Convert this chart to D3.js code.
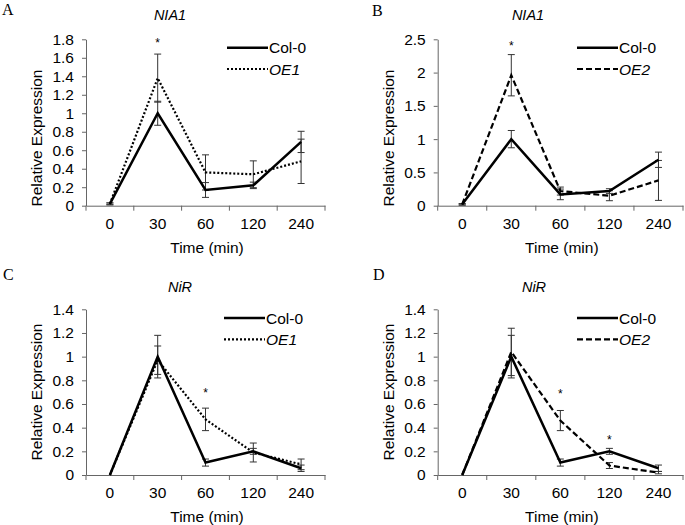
<!DOCTYPE html>
<html>
<head>
<meta charset="utf-8">
<script src="https://cdn.jsdelivr.net/npm/d3@7"></script>
<style>
  body { margin: 0; background: #fff; }
  svg text { font-family: "Liberation Sans", Arial, sans-serif; }
</style>
</head>
<body>
<div class="canva"></div>
<script>
// data
const times = ['0', '30', '60', '120', '240'];

const nia1Col = [0.02, 1.0, 0.17, 0.22, 0.69];
const nia1ColErr = [0.01, 0.13, 0.08, 0.035, 0.115];
const nia1OE1 = [0.02, 1.38, 0.36, 0.34, 0.48];
const nia1OE1Err = [0.01, 0.26, 0.19, 0.145, 0.24];
const nia1OE2 = [0.02, 1.96, 0.22, 0.15, 0.38];
const nia1OE2Err = [0.01, 0.31, 0.06, 0.075, 0.30];

const nirCol = [0, 1.0, 0.105, 0.2, 0.057];
const nirColErr = [0, 0.18, 0.03, 0.025, 0.027];
const nirOE1 = [0, 0.97, 0.47, 0.19, 0.09];
const nirOE1Err = [0, 0.12, 0.095, 0.08, 0.045];
const nirOE2 = [0, 1.04, 0.46, 0.08, 0.02];
const nirOE2Err = [0, 0.2, 0.085, 0.025, 0.01];

const ticks14 = [0, 0.2, 0.4, 0.6, 0.8, 1, 1.2, 1.4];
const ticks18 = [0, 0.2, 0.4, 0.6, 0.8, 1, 1.2, 1.4, 1.6, 1.8];
const ticks25 = [0, 0.5, 1, 1.5, 2, 2.5];

// significance marks: [category, level]
const starsA = [['30', 1.79]];
const starsB = [['30', 2.45]];
const starsC = [['60', 0.72]];
const starsD = [['60', 0.71], ['120', 0.32]];

const svg = d3.select('.canva').append('svg')
  .attr('width', 685)
  .attr('height', 525);

const panels = [
  {letter: 'A', gene: 'NIA1', oe: 'OE1', dash: '2,2', col: nia1Col, colErr: nia1ColErr, oeV: nia1OE1, oeErr: nia1OE1Err,
   yTicks: ticks18, stars: starsA, left: 86, right: 325, top: 39.3, bottom: 205.7, labelY: 138,
   letterX: 2, letterY: 15, geneX: 170, geneY: 20, legX: 227, legY: 47.7},
  {letter: 'B', gene: 'NIA1', oe: 'OE2', dash: '6,3', col: nia1Col, colErr: nia1ColErr, oeV: nia1OE2, oeErr: nia1OE2Err,
   yTicks: ticks25, stars: starsB, left: 437.7, right: 683, top: 39.3, bottom: 205.7, labelY: 138,
   letterX: 372, letterY: 16, geneX: 528, geneY: 20, legX: 577, legY: 47.7},
  {letter: 'C', gene: 'NiR', oe: 'OE1', dash: '2,2', col: nirCol, colErr: nirColErr, oeV: nirOE1, oeErr: nirOE1Err,
   yTicks: ticks14, stars: starsC, left: 86, right: 325, top: 309.3, bottom: 475, labelY: 392,
   letterX: 3, letterY: 280, geneX: 180, geneY: 292, legX: 224, legY: 318},
  {letter: 'D', gene: 'NiR', oe: 'OE2', dash: '6,3', col: nirCol, colErr: nirColErr, oeV: nirOE2, oeErr: nirOE2Err,
   yTicks: ticks14, stars: starsD, left: 437.7, right: 683, top: 309.3, bottom: 475, labelY: 392,
   letterX: 373, letterY: 280, geneX: 534, geneY: 292, legX: 577, legY: 318}
];

panels.forEach(p => {
  const g = svg.append('g');

  const x = d3.scaleBand().domain(times).range([p.left, p.right]);
  const y = d3.scaleLinear().domain([0, d3.max(p.yTicks)]).range([p.bottom, p.top]);
  const cx = d => x(d) + x.bandwidth() / 2;

  // y axis
  const ya = g.append('g')
    .attr('transform', 'translate(' + p.left + ',0)')
    .call(d3.axisLeft(y).tickValues(p.yTicks).tickSize(4).tickSizeOuter(0).tickPadding(8).tickFormat(d3.format('')));
  ya.selectAll('text').style('font-size', '15.5px').attr('fill', '#000');
  ya.selectAll('path, line').attr('stroke', '#666');

  // x axis: labels at band centres, ticks on band edges
  const xa = g.append('g')
    .attr('transform', 'translate(0,' + p.bottom + ')')
    .call(d3.axisBottom(x).tickSize(0).tickSizeOuter(0).tickPadding(12));
  xa.select('.domain').attr('stroke', '#666');
  xa.selectAll('text').style('font-size', '15.5px').attr('fill', '#000');
  const edges = times.map(t => x(t)).concat([p.right]);
  g.selectAll('.xtick').data(edges).enter().append('line')
    .attr('x1', d => d).attr('x2', d => d)
    .attr('y1', p.bottom).attr('y2', p.bottom + 5)
    .attr('stroke', '#666');

  g.append('text')
    .attr('x', (p.left + p.right) / 2 + 1.5)
    .attr('y', p.bottom + 47)
    .attr('text-anchor', 'middle')
    .style('font-size', '15.5px')
    .text('Time (min)');

  g.append('text')
    .attr('transform', 'translate(' + (p.left - 44) + ',' + p.labelY + ') rotate(-90)')
    .attr('text-anchor', 'middle')
    .style('font-size', '15.5px')
    .text('Relative Expression');

  // titles
  g.append('text')
    .attr('x', p.letterX).attr('y', p.letterY)
    .style('font-family', '"Liberation Serif", "Times New Roman", serif')
    .style('font-size', '16px')
    .text(p.letter);
  g.append('text')
    .attr('x', p.geneX).attr('y', p.geneY)
    .attr('text-anchor', 'middle')
    .style('font-size', '14.5px')
    .style('font-style', 'italic')
    .text(p.gene);

  // error bars
  const series = [
    {v: p.col, e: p.colErr},
    {v: p.oeV, e: p.oeErr}
  ];
  series.forEach(s => {
    const bars = times.map((t, i) => ({t: t, v: s.v[i], e: s.e[i]})).filter(d => d.e > 0);
    const eb = g.append('g').attr('stroke', '#333').attr('stroke-width', 1);
    eb.selectAll('.stem').data(bars).enter().append('line')
      .attr('x1', d => cx(d.t)).attr('x2', d => cx(d.t))
      .attr('y1', d => y(d.v - d.e)).attr('y2', d => y(d.v + d.e));
    [1, -1].forEach(sg => {
      eb.selectAll('.cap' + sg).data(bars).enter().append('line')
        .attr('x1', d => cx(d.t) - 3.5).attr('x2', d => cx(d.t) + 3.5)
        .attr('y1', d => y(d.v + sg * d.e)).attr('y2', d => y(d.v + sg * d.e));
    });
  });

  // lines
  const line = d3.line().x((d, i) => cx(times[i])).y(d => y(d));
  g.append('path').datum(p.oeV)
    .attr('d', line).attr('fill', 'none')
    .attr('stroke', '#000').attr('stroke-width', 2.2)
    .attr('stroke-dasharray', p.dash);
  g.append('path').datum(p.col)
    .attr('d', line).attr('fill', 'none')
    .attr('stroke', '#000').attr('stroke-width', 2.5);

  // stars
  g.selectAll('.star').data(p.stars).enter().append('text')
    .attr('x', d => cx(d[0]))
    .attr('y', d => y(d[1]) + 7)
    .attr('text-anchor', 'middle')
    .style('font-size', '12px')
    .text('*');

  // legend
  const leg = g.append('g');
  [{name: 'Col-0', dash: null, it: false, dy: 0},
   {name: p.oe, dash: p.dash, it: true, dy: 21.3}].forEach(l => {
    leg.append('line')
      .attr('x1', p.legX).attr('x2', p.legX + 41)
      .attr('y1', p.legY + l.dy).attr('y2', p.legY + l.dy)
      .attr('stroke', '#000')
      .attr('stroke-width', l.dash ? 2.2 : 2.5)
      .attr('stroke-dasharray', l.dash);
    leg.append('text')
      .attr('x', p.legX + 42).attr('y', p.legY + l.dy + 5.5)
      .style('font-size', '15.5px')
      .style('font-style', l.it ? 'italic' : 'normal')
      .text(l.name);
  });
});
</script>
</body>
</html>
